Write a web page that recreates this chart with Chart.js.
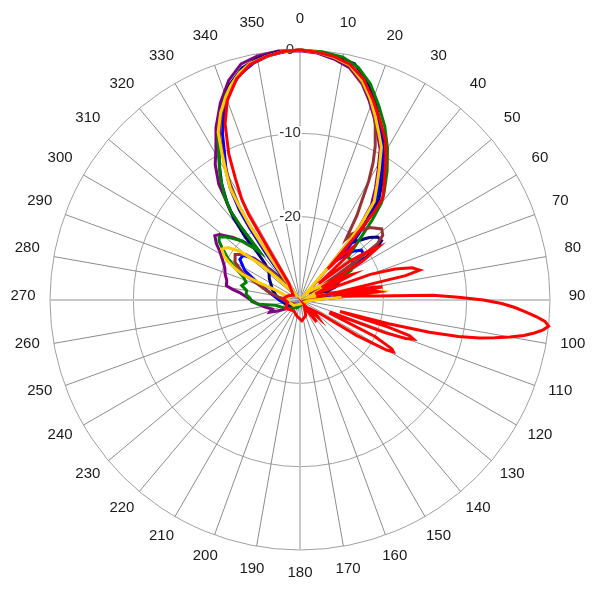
<!DOCTYPE html>
<html>
<head>
<meta charset="utf-8">
<script src="https://cdn.jsdelivr.net/npm/chart.js@4.4.0/dist/chart.umd.min.js"></script>
<style>
  html, body { margin: 0; padding: 0; background: #fff; }
</style>
</head>
<body>
<canvas id="myChart" width="600" height="600"></canvas>
<script>
// polar scale, dB
const rMin = -30;
const rMax = 0;
const rStep = 10;

// one radar label per degree, only every 10th is printed
const angleLabels = Array.from({ length: 360 }, (_, i) => String(i));
const angleTickLabels = ['0', '10', '20', '30', '40', '50', '60', '70', '80', '90', '100', '110',
    '120', '130', '140', '150', '160', '170', '180', '190', '200', '210', '220', '230',
    '240', '250', '260', '270', '280', '290', '300', '310', '320', '330', '340', '350'];

// [angle in degrees, level in dB]
const redPts = [[0, 0], [4, -0.2], [8, -0.5], [12, -1.1], [16, -2.4], [20, -4.4], [24, -6.4], [28, -8.2], [31, -10],
    [35, -12.3], [39, -14.2], [40, -16], [41, -20], [42, -25], [43, -23], [45, -21], [47, -22], [49, -27], [52, -22.5],
    [54, -20.5], [56, -18.7], [58, -21], [60, -27], [62, -24], [64, -23], [66, -27], [68, -28], [70, -21], [72, -18],
    [74, -16], [76, -15.2], [77, -17], [78, -25], [79, -28], [80, -21], [81, -20], [82, -26], [83, -21], [84, -20.5],
    [85, -25], [86, -23], [87, -21], [88, -14], [89, -11], [90, -8], [91, -5.8], [92, -4.2], [93, -2.9], [94, -1.6],
    [95, -0.5], [96, 0], [97, -0.6], [98, -1.6], [99, -2.8], [100, -4.4], [101, -6.2], [102, -8], [103, -10.5],
    [104, -14], [105, -19], [106, -25], [107, -19], [108, -16.2], [109, -15.6], [110, -16.5], [111, -19], [112, -26],
    [114, -26], [116, -20], [118, -17.5], [119, -17.2], [120, -18], [122, -22], [124, -27], [128, -28], [134, -27],
    [138, -29], [143, -26.7], [147, -29], [160, -28], [175, -27.5], [190, -28], [210, -28.5], [240, -28], [260, -28.5],
    [275, -28], [290, -28.5], [305, -29], [318, -28.5], [326, -27.5], [328, -24], [329, -18], [330, -16], [332, -13.5],
    [334, -10.5], [337, -7], [340, -4.5], [344, -2.4], [348, -1.1], [352, -0.5], [356, -0.1]];

const yellowPts = [[0, 0], [4, -0.2], [8, -0.6], [12, -1.2], [16, -2.7], [19, -4.3], [22, -6], [25, -7.7], [28, -9.2],
    [31, -11.5], [34, -13.5], [37, -15.2], [39, -18.5], [40, -21], [41, -25], [42, -29], [50, -28], [56, -27],
    [60, -25.5], [64, -27.5], [72, -29], [78, -27], [81, -24], [83, -21.5], [84, -20.4], [85, -21.5], [87, -27],
    [95, -29], [130, -29.5], [180, -29.5], [230, -29], [265, -28.5], [280, -28.5], [288, -28], [292, -27], [293, -24.5],
    [294, -22.5], [296, -21.3], [298, -20.3], [300, -19.5], [303, -18.8], [306, -19.3], [309, -20.7], [312, -23.6],
    [314, -26], [317, -28.5], [321, -29], [324, -27], [325, -24], [326, -19.5], [327, -16.5], [328, -14.2], [330, -12.2],
    [332, -10], [334, -7.6], [337, -5.6], [340, -4], [342, -3], [345, -1.8], [348, -1], [352, -0.5], [356, -0.1]];

const brownPts = [[0, 0], [4, -0.2], [8, -0.6], [12, -1.3], [16, -2.9], [20, -4.7], [23, -6.9], [26, -9.4], [28, -11.3],
    [30, -13.5], [32, -16], [34, -17.8], [36, -20], [37, -20.8], [38, -20], [40, -19.3], [44, -17.9], [49, -17],
    [52, -17.4], [54, -18.5], [55, -21], [56, -25], [58, -28], [70, -28], [85, -28], [100, -29.5], [160, -29.5],
    [220, -29.3], [260, -28.5], [285, -26], [295, -22.5], [300, -21], [305, -20.5], [310, -21.5], [314, -24], [318, -27],
    [323, -27], [325, -24], [326, -19], [327, -16.5], [329, -13.7], [331, -11.3], [334, -7.9], [337, -5.8], [340, -4.1],
    [344, -2.2], [348, -1.1], [352, -0.5], [356, -0.1]];

const greenPts = [[0, 0], [5, -0.1], [10, -0.4], [14, -1.2], [18, -2.7], [22, -4.8], [26, -6.8], [30, -9], [34, -11.3],
    [38, -13.6], [40, -14.8], [42, -17], [44, -19.3], [46, -21], [48, -22.3], [52, -22.2], [56, -22.3], [60, -22.9],
    [62, -25], [64, -28], [75, -28], [85, -27], [95, -29], [140, -29.5], [200, -29], [240, -28], [258, -27], [264, -25],
    [268, -24.2], [272, -24], [276, -23.5], [280, -23.5], [284, -22.8], [288, -23.2], [292, -22.7], [296, -21.5],
    [300, -20], [304, -18.7], [306, -18], [308, -17.7], [310, -18.2], [312, -18.9], [315, -19.9], [318, -21.5],
    [320, -22.5], [321, -19], [322, -16.5], [324, -14.6], [327, -12.4], [330, -10.6], [333, -8.3], [336, -6.3],
    [340, -3.9], [344, -2.2], [348, -1.1], [352, -0.5], [356, -0.1]];

const bluePts = [[0, 0], [4, -0.2], [8, -0.6], [12, -1.1], [16, -2.5], [20, -4.6], [24, -6.8], [28, -8.9], [31, -10.8],
    [34, -12.8], [37, -14.8], [40, -17.5], [42, -20.5], [44, -23], [46, -22], [48, -21.2], [51, -20.5], [54, -20.6],
    [57, -21.2], [59, -23.5], [61, -28], [70, -28], [80, -27], [85, -26], [90, -29], [120, -29.5], [180, -29.5],
    [240, -29], [270, -27.5], [290, -25], [298, -22.5], [304, -21.3], [308, -21.3], [312, -22.5], [316, -25],
    [320, -27.5], [323, -26], [324, -23], [325, -19.5], [326, -17], [328, -14.2], [330, -12.3], [333, -10], [335, -8],
    [338, -5.6], [341, -3.6], [345, -2], [349, -1], [353, -0.4], [357, -0.1]];

const navyPts = [[0, 0], [5, -0.2], [9, -0.5], [13, -0.9], [17, -2.5], [21, -4.7], [25, -7], [28, -8.8], [30, -9.6],
    [34, -12.2], [38, -14.6], [40, -16.8], [42, -20], [43, -20.5], [46, -19.5], [48, -18.8], [51, -18], [54, -17.9],
    [56, -19], [58, -21.5], [59, -24], [61, -28], [66, -25], [70, -25.5], [75, -27.5], [85, -28.5], [100, -29.5],
    [150, -29.5], [200, -29.3], [240, -28.5], [270, -27.5], [290, -26.5], [305, -25.5], [312, -25], [316, -24],
    [318, -22.5], [319, -20], [321, -17.3], [323, -15.5], [326, -13.2], [329, -11.2], [332, -9.3], [335, -7.2],
    [338, -5], [342, -2.8], [346, -1.3], [350, -0.6], [355, -0.1]];

const purplePts = [[0, -0.1], [4, -0.3], [8, -0.8], [12, -1.5], [16, -3], [19, -4.6], [22, -6.3], [25, -8], [28, -9.5],
    [31, -11.8], [34, -13.8], [37, -15.8], [39, -18.5], [40, -21], [41, -24.5], [43, -28], [55, -28.5], [66, -28],
    [74, -27], [80, -25], [84, -21.8], [86, -25], [88, -28], [100, -29.5], [140, -29.5], [180, -29.3], [225, -29],
    [238, -28], [244, -27], [248, -26.1], [252, -26.5], [258, -25.8], [264, -25], [268, -24.4], [272, -23.8],
    [277, -22.7], [279, -21.8], [281, -21], [285, -20.9], [289, -20.5], [293, -20.2], [297, -19.6], [301, -18.8],
    [304, -17.9], [307, -17.2], [309, -17.5], [311, -18.3], [313, -19], [316, -20.3], [318, -21.3], [320, -22.3],
    [321, -18.5], [322, -16.5], [323, -15.5], [325, -13], [328, -10.8], [331, -9.2], [334, -7], [338, -4.5],
    [342, -2.3], [346, -0.8], [350, -0.3], [355, 0]];

function toRadar(points) {
    const out = new Array(angleLabels.length).fill(null);
    points.forEach(([deg, db]) => {
        out[deg] = Math.max(db, rMin);
    });
    return out;
}

function series(points, color) {
    return {
        data: toRadar(points),
        borderColor: color,
        backgroundColor: color,
        borderWidth: 3,
        fill: false,
        spanGaps: true,
        pointRadius: 0,
        tension: 0
    };
}

// tick labels on the 0 deg axis and the degree labels round the rim
const polarLabels = {
    id: 'polarLabels',
    beforeDatasetsDraw(chart) {
        const scale = chart.scales.r;
        const ctx = chart.ctx;
        ctx.save();
        ctx.textAlign = 'center';
        ctx.textBaseline = 'middle';

        ctx.font = '15px "Liberation Sans", Arial, sans-serif';
        scale.ticks.forEach(tick => {
            if (tick.value <= rMin) return;
            const y = scale.yCenter - scale.getDistanceFromCenterForValue(tick.value);
            const x = scale.xCenter - 10;
            const label = String(tick.value);
            const w = ctx.measureText(label).width;
            ctx.fillStyle = '#ffffff';
            ctx.fillRect(x - w / 2 - 1, y - 7, w + 2, 14);
            ctx.fillStyle = '#333333';
            ctx.fillText(label, x, y);
        });

        ctx.fillStyle = '#1a1a1a';
        angleTickLabels.forEach(label => {
            const p = scale.getPointPosition(Number(label), scale.drawingArea + 27);
            ctx.fillText(label, p.x, p.y - 4);
        });
        ctx.restore();
    }
};

const ctx = document.getElementById('myChart').getContext('2d');
const myChart = new Chart(ctx, {
    type: 'radar',
    data: {
        labels: angleLabels,
        datasets: [
            series(redPts, '#ff0000'),
            series(yellowPts, '#ffcc00'),
            series(brownPts, '#993333'),
            series(greenPts, '#008000'),
            series(bluePts, '#0000ff'),
            series(navyPts, '#000080'),
            series(purplePts, '#800080')
        ]
    },
    options: {
        responsive: false,
        animation: false,
        layout: { padding: 50 },
        plugins: {
            legend: { display: false },
            tooltip: { enabled: false }
        },
        scales: {
            r: {
                min: rMin,
                max: rMax,
                startAngle: 0,
                ticks: { stepSize: rStep, display: false },
                grid: { circular: true, color: '#a0a0a0', lineWidth: 1 },
                angleLines: {
                    color: c => (c.index % 90 === 0 ? '#c8c8c8' : '#8c8c8c'),
                    lineWidth: c => (c.index % 10 ? 0 : (c.index % 90 ? 1 : 2))
                },
                pointLabels: { display: false }
            }
        }
    },
    plugins: [polarLabels]
});
</script>
</body>
</html>
